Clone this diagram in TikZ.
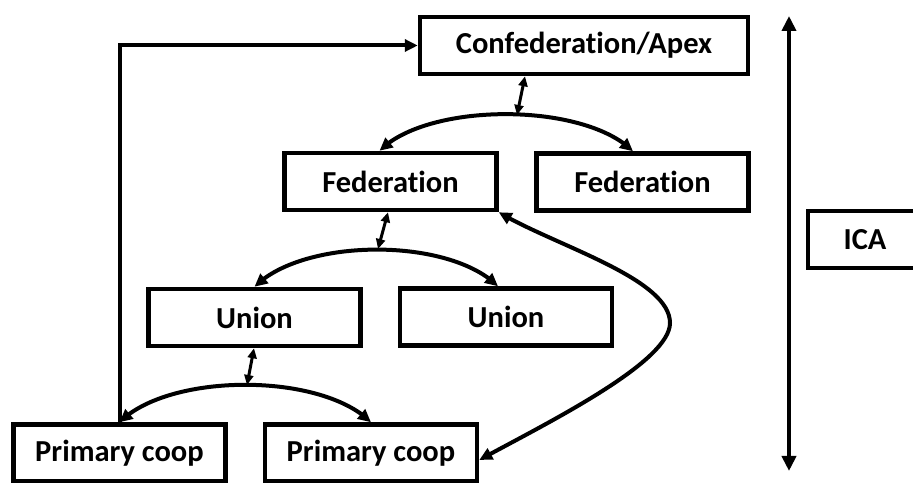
\documentclass[tikz,border=0pt]{standalone}
\usepackage{fontspec}
\setmainfont{Carlito}[Ligatures=NoCommon]
\usetikzlibrary{arrows.meta,bending}
\begin{document}
\begin{tikzpicture}[x=1pt,y=1pt,
  >={Triangle[length=13pt,width=12pt]},
  box/.style={draw, line width=4.5pt, minimum width=212pt, minimum height=57pt, inner sep=0pt,
    font=\fontsize{30.5}{35}\selectfont\bfseries},
  conn/.style={line width=4pt},
  small/.style={line width=3pt, {Triangle[length=10pt,width=9pt]}-{Triangle[length=10pt,width=9pt]}}]
\useasboundingbox (0,0) rectangle (913,482);
\clip (0,0) rectangle (913,482);

\node[box, minimum width=328pt] (conf) at (584,436.5) {Confederation/Apex};
\node[box] (fedL) at (390.5,300.5) {Federation};
\node[box] (fedR) at (642.5,300) {Federation};
\node[box] (unL) at (254.5,164.5) {Union};
\node[box] (unR) at (506,165) {Union};
\node[box] (pcL) at (119.5,29) {Primary coop};
\node[box] (pcR) at (371,29) {Primary coop};
\node[box, minimum width=114pt] (ica) at (865,242.5) {ICA};

\coordinate (icaTop) at (789,466);
\coordinate (icaBot) at (789,11);
\coordinate (p1) at (517,367);
\coordinate (p2) at (378,233);
\coordinate (p3) at (247,97);
\coordinate (m) at (670,159);
\coordinate (a1) at (553,237);
\coordinate (a2) at (670,204);
\coordinate (b1) at (670,119);
\coordinate (b2) at (543,57);

% ICA span
\draw[line width=4pt, <->, >={Triangle[length=15pt,width=14pt]}] (icaTop) -- (icaBot);

% feedback from primary coop to apex
\draw[conn, ->] (pcL.north) |- (conf.west);

% arcs
\draw[conn, <->] ([xshift=-11pt]fedL.north) to[out=45,in=135,looseness=0.7] ([xshift=-9.5pt]fedR.north);
\draw[conn, <->] (unL.north) to[out=45,in=135,looseness=0.73] ([xshift=-8pt]unR.north);
\draw[conn, <->] (pcL.north) to[out=45,in=135,looseness=0.72] (pcR.north);

% small double arrows
\draw[small] ([xshift=-59pt]conf.south) -- (p1);
\draw[small] ([xshift=-2.5pt]fedL.south) -- (p2);
\draw[small] ([xshift=-0.5pt]unL.south) -- (p3);

% big curve
\draw[conn, <->] (fedL.south east) .. controls (a1) and (a2) .. (m) .. controls (b1) and (b2) .. ([yshift=-7pt]pcR.east);
\end{tikzpicture}
\end{document}
